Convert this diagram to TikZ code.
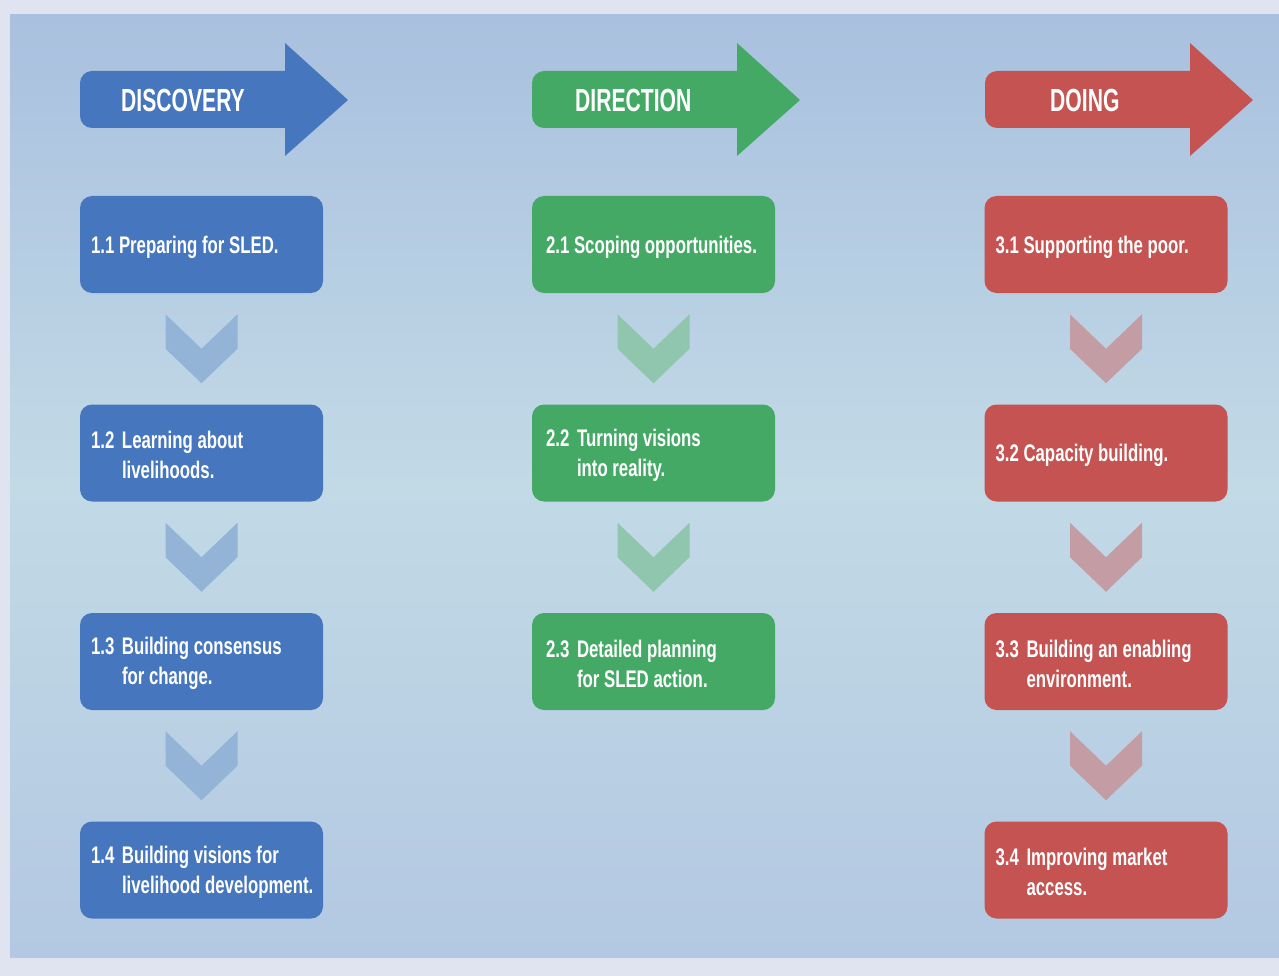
\documentclass[tikz,border=0pt]{standalone}
\usepackage{fontspec}
\setmainfont{Liberation Sans}[FakeStretch=0.70,WordSpace=1.0]
\newfontfamily\headfont{Liberation Sans}[FakeStretch=0.66]
\usetikzlibrary{calc}
\definecolor{outerbg}{HTML}{E0E4F1}
\definecolor{bgtop}{HTML}{A9C0DF}
\definecolor{bgmid}{HTML}{C2DAE6}
\definecolor{bgbot}{HTML}{B3C8E2}
\definecolor{cblue}{HTML}{4576BE}
\definecolor{cgreen}{HTML}{45A966}
\definecolor{cred}{HTML}{C45351}
\definecolor{chblue}{HTML}{93B3D7}
\definecolor{chgreen}{HTML}{8FC6AD}
\definecolor{chred}{HTML}{C49CA4}
\pgfdeclareverticalshading{bgshade}{100bp}{color(0bp)=(bgbot); color(25bp)=(bgbot); color(50bp)=(bgmid); color(75bp)=(bgtop); color(100bp)=(bgtop)}
\tikzset{
  stepbox/.style={rectangle, rounded corners=12pt, fill=#1,
    minimum width=243pt, minimum height=97pt, inner sep=0pt},
  steptext/.style={anchor=west, text=white, inner sep=0pt, align=left,
    font=\bfseries\fontsize{24}{30}\selectfont},
  headtext/.style={text=white, anchor=west, inner sep=0pt,
    font=\headfont\bfseries\fontsize{32}{36}\selectfont},
  chev/.pic={\path[pic actions] (-36,-34.5) -- (0,0) -- (36,-34.5) -- (36,0) -- (0,34.5) -- (-36,0) -- cycle;}
}
\newcommand{\hd}[1]{\makebox[31pt][l]{#1}}
\newcommand{\ind}{\hspace*{31pt}}
\begin{document}
\begin{tikzpicture}[x=1pt,y=-1pt]
\useasboundingbox (0,0) rectangle (1279,976);
\fill[outerbg] (0,0) rectangle (1279,976);
\shade[shading=bgshade] (10,15) rectangle (1279,957);
% header arrows
\foreach \x/\c in {80/cblue,532/cgreen,985/cred}{
  \fill[\c] (\x+205,128) [rounded corners=12pt] -- (\x,128) -- (\x,71) [sharp corners] -- (\x+205,71) -- (\x+205,43) -- (\x+268,100) -- (\x+205,156) -- cycle;
}
\node[headtext] (h1) at (121,100) {DISCOVERY};
\node[headtext] (h2) at (575,100) {DIRECTION};
\node[headtext] (h3) at (1050,100) {DOING};
% boxes
\node[stepbox=cblue] (b11) at (201.5,244.5) {};
\node[stepbox=cblue] (b12) at (201.5,453) {};
\node[stepbox=cblue] (b13) at (201.5,661.5) {};
\node[stepbox=cblue] (b14) at (201.5,870) {};
\node[stepbox=cgreen] (b21) at (653.5,244.5) {};
\node[stepbox=cgreen] (b22) at (653.5,453) {};
\node[stepbox=cgreen] (b23) at (653.5,661.5) {};
\node[stepbox=cred] (b31) at (1106,244.5) {};
\node[stepbox=cred] (b32) at (1106,453) {};
\node[stepbox=cred] (b33) at (1106,661.5) {};
\node[stepbox=cred] (b34) at (1106,870) {};
% texts
\node[steptext] (t11) at ($(b11.west)+(11,3)$) {1.1 Preparing for SLED.};
\node[steptext] (t12) at ($(b12.west)+(11,2)$) {\hd{1.2}Learning about\\\ind livelihoods.};
\node[steptext] (t13) at ($(b13.west)+(11,2)$) {\hd{1.3}Building consensus\\\ind for change.};
\node[steptext] (t14) at ($(b14.west)+(11,2)$) {\hd{1.4}Building visions for\\\ind livelihood development.};
\node[steptext] (t21) at ($(b21.west)+(14,3)$) {2.1 Scoping opportunities.};
\node[steptext] (t22) at ($(b22.west)+(14,2)$) {\hd{2.2}Turning visions\\\ind into reality.};
\node[steptext] (t23) at ($(b23.west)+(14,2)$) {\hd{2.3}Detailed planning\\\ind for SLED action.};
\node[steptext] (t31) at ($(b31.west)+(11,3)$) {3.1 Supporting the poor.};
\node[steptext] (t32) at ($(b32.west)+(11,2)$) {3.2 Capacity building.};
\node[steptext] (t33) at ($(b33.west)+(11,2)$) {\hd{3.3}Building an enabling\\\ind environment.};
\node[steptext] (t34) at ($(b34.west)+(11,2)$) {\hd{3.4}Improving market\\\ind access.};
% chevrons
\foreach \a/\b/\c in {b11/b12/chblue,b12/b13/chblue,b13/b14/chblue,b21/b22/chgreen,b22/b23/chgreen,b31/b32/chred,b32/b33/chred,b33/b34/chred}{
  \pic[fill=\c] at ($(\a.south)!0.5!(\b.north)$) {chev};
}
\end{tikzpicture}
\end{document}
